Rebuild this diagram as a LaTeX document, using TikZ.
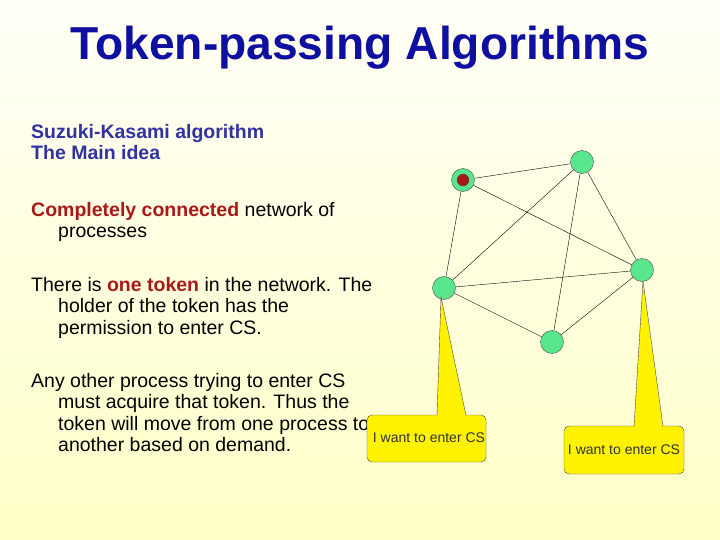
\documentclass[tikz,border=0pt]{standalone}
\usepackage{fontspec}
\setmainfont{Liberation Sans}
\definecolor{titleblue}{RGB}{15,15,160}
\definecolor{headblue}{RGB}{50,50,160}
\definecolor{hotred}{RGB}{170,25,25}
\definecolor{procgreen}{RGB}{90,230,140}
\newcommand{\hot}[1]{\textcolor{hotred}{\bfseries #1}}
\tikzset{
  proc/.style={circle,draw=black!70,fill=procgreen,minimum size=23pt,inner sep=0pt},
  link/.style={black,thin},
  bubble/.style={draw=black!70,fill=yellow,rounded corners=5pt},
  txt/.style={anchor=north west,align=left,inner sep=0pt,font=\fontsize{19.5}{21.5}\selectfont}
}
\begin{document}
\begin{tikzpicture}[x=1pt,y=-1pt]
\shade[top color=yellow!3,bottom color=yellow!22] (0,0) rectangle (720,540);
\useasboundingbox (0,0) rectangle (720,540);
\node[font=\bfseries\fontsize{44}{48}\selectfont,text=titleblue,scale=1.05] (title) at (360,48) {Token-passing Algorithms};

\node[txt,text=headblue,font=\bfseries\fontsize{19.5}{21.5}\selectfont] (t1) at (31,124) {Suzuki-Kasami algorithm\\The Main idea};
\node[txt] (t2) at (31,202) {\hot{Completely connected} network of\\\hspace{27pt}processes};
\node[txt] (t3) at (31,277) {There is \hot{one token} in the network. The\\\hspace{27pt}holder of the token has the\\\hspace{27pt}permission to enter CS.};
\node[txt] (t4) at (31,373) {Any other process trying to enter CS\\\hspace{27pt}must acquire that token. Thus the\\\hspace{27pt}token will move from one process to\\\hspace{27pt}another based on demand.};

% network
\node[proc] (pa) at (463,180) {};
\node[circle,draw=black!70,fill=hotred,minimum size=12pt,inner sep=0pt] (tok) at (pa) {};
\node[proc] (pb) at (582,162) {};
\node[proc] (pc) at (642,270) {};
\node[proc] (pd) at (444,288) {};
\node[proc] (pe) at (552,342) {};
\foreach \u/\v in {pa/pb,pa/pd,pa/pc,pb/pd,pb/pe,pb/pc,pd/pc,pd/pe,pe/pc}
  \draw[link] (\u) -- (\v);

% callouts
\coordinate (tipd) at (441,297);
\coordinate (tipc) at (643,281);
\node[bubble,minimum width=119pt,minimum height=47pt] (cd) at (426.5,438.5) {};
\node[bubble,minimum width=120pt,minimum height=48pt] (cc) at (624,450) {};
\fill[yellow,draw=black!70] (437,415.5) -- (tipd) -- (466,415.5);
\fill[yellow] (438,418) rectangle (465,414);
\fill[yellow,draw=black!70] (634,426.5) -- (tipc) -- (663,426.5);
\fill[yellow] (635,429) rectangle (662,425);
\node[font=\fontsize{14}{16}\selectfont,text=black!80] (cdt) at (429,438) {I want to enter CS};
\node[font=\fontsize{14}{16}\selectfont,text=black!80] (cct) at (624,450) {I want to enter CS};
\end{tikzpicture}
\end{document}
